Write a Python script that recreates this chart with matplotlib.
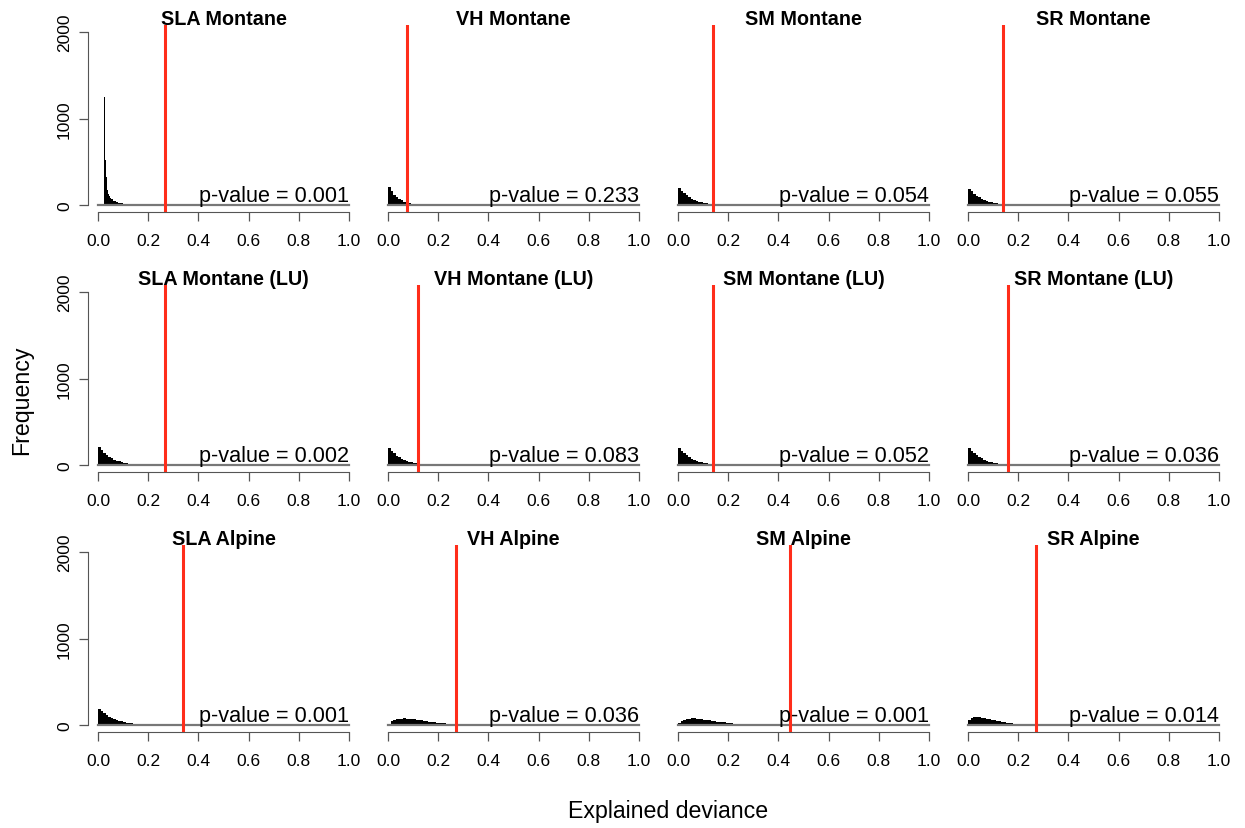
import numpy as np
import matplotlib
matplotlib.use("Agg")
import matplotlib.pyplot as plt

plt.rcParams["font.family"] = ["Liberation Sans", "DejaVu Sans"]

# ─── data ─────────────────────────────────────────────────────────────────────

titles = [
    "SLA Montane", "VH Montane", "SM Montane", "SR Montane",
    "SLA Montane (LU)", "VH Montane (LU)", "SM Montane (LU)", "SR Montane (LU)",
    "SLA Alpine", "VH Alpine", "SM Alpine", "SR Alpine",
]
observed = [0.265, 0.074, 0.139, 0.139,
            0.265, 0.120, 0.140, 0.159,
            0.339, 0.271, 0.446, 0.271]
p_values = ["0.001", "0.233", "0.054", "0.055",
            "0.002", "0.083", "0.052", "0.036",
            "0.001", "0.036", "0.001", "0.014"]

# panel 1 has its own (finer) bins because of the spike
edges_sla = [0.025, 0.028, 0.031, 0.034, 0.037, 0.040, 0.044, 0.048, 0.053,
             0.058, 0.065, 0.072, 0.080, 0.090, 0.100, 0.115, 0.130, 0.150,
             0.175, 0.200, 0.240, 0.280]
counts_sla = [1250, 520, 330, 230, 170, 130, 100, 80, 65, 52, 42, 34, 27,
              21, 16, 12, 9, 6, 4, 2, 1]

# other panels: bins of width 0.01 from 0 to 0.4
edges_std = [round(0.01 * i, 2) for i in range(41)]
counts = {
    "VH Montane":       [205, 160, 122, 92, 70, 53, 40, 31, 24, 18, 14, 11, 8, 6, 5, 4, 3, 2, 2, 1,
                         1, 1, 1, 0, 0, 0, 0, 0, 0, 0, 0, 0, 0, 0, 0, 0, 0, 0, 0, 0],
    "SM Montane":       [200, 168, 138, 112, 92, 75, 61, 50, 41, 33, 27, 22, 18, 14, 11, 9, 7, 6, 5, 4,
                         3, 2, 2, 1, 1, 1, 1, 0, 0, 0, 0, 0, 0, 0, 0, 0, 0, 0, 0, 0],
    "SR Montane":       [190, 160, 132, 108, 88, 72, 59, 48, 39, 32, 26, 21, 17, 14, 11, 9, 7, 6, 5, 4,
                         3, 2, 2, 1, 1, 1, 1, 0, 0, 0, 0, 0, 0, 0, 0, 0, 0, 0, 0, 0],
    "SLA Montane (LU)": [205, 172, 142, 116, 95, 78, 64, 52, 42, 34, 28, 23, 18, 15, 12, 10, 8, 6, 5, 4,
                         3, 3, 2, 2, 1, 1, 1, 1, 0, 0, 0, 0, 0, 0, 0, 0, 0, 0, 0, 0],
    "VH Montane (LU)":  [200, 166, 136, 110, 90, 73, 59, 48, 39, 31, 25, 20, 16, 13, 10, 8, 6, 5, 4, 3,
                         2, 2, 1, 1, 1, 1, 0, 0, 0, 0, 0, 0, 0, 0, 0, 0, 0, 0, 0, 0],
    "SM Montane (LU)":  [200, 168, 138, 113, 92, 75, 61, 50, 41, 33, 27, 22, 18, 14, 11, 9, 7, 6, 5, 4,
                         3, 2, 2, 1, 1, 1, 1, 0, 0, 0, 0, 0, 0, 0, 0, 0, 0, 0, 0, 0],
    "SR Montane (LU)":  [200, 168, 139, 114, 93, 76, 62, 51, 41, 34, 27, 22, 18, 15, 12, 9, 8, 6, 5, 4,
                         3, 2, 2, 1, 1, 1, 1, 0, 0, 0, 0, 0, 0, 0, 0, 0, 0, 0, 0, 0],
    "SLA Alpine":       [185, 160, 137, 117, 99, 84, 71, 60, 50, 42, 35, 29, 24, 20, 16, 13, 11, 9, 7, 6,
                         5, 4, 3, 3, 2, 2, 1, 1, 1, 1, 0, 0, 0, 0, 0, 0, 0, 0, 0, 0],
    "VH Alpine":        [18, 42, 58, 67, 72, 75, 76, 75, 73, 70, 66, 62, 58, 53, 49, 44, 40, 36, 32, 28,
                         25, 22, 19, 16, 14, 12, 10, 8, 7, 6, 5, 4, 3, 3, 2, 2, 1, 1, 1, 0],
    "SM Alpine":        [22, 48, 63, 71, 75, 77, 77, 75, 72, 68, 64, 59, 55, 50, 46, 41, 37, 33, 30, 26,
                         23, 20, 17, 15, 13, 11, 9, 8, 6, 5, 4, 4, 3, 2, 2, 1, 1, 1, 0, 0],
    "SR Alpine":        [55, 80, 88, 90, 88, 84, 79, 73, 67, 61, 55, 49, 43, 38, 33, 29, 25, 21, 18, 15,
                         13, 11, 9, 7, 6, 5, 4, 3, 2, 2, 1, 1, 1, 0, 0, 0, 0, 0, 0, 0],
}

x_ticks = [0.0, 0.2, 0.4, 0.6, 0.8, 1.0]
y_ticks = [0, 1000, 2000]

# ─── layout (pixels of a 1245x829 canvas) ────────────────────────────────────

W, H = 1245, 829
fig = plt.figure(figsize=(W / 100, H / 100), dpi=100)

axis_col = "#555555"
red = "#ff2d1a"

for i, title in enumerate(titles):
    r, c = divmod(i, 4)
    left, top, w, h = 88 + 290 * c, 26 + 260 * r, 271, 187
    ax = fig.add_axes([left / W, 1 - (top + h) / H, w / W, h / H])

    if i == 0:
        e, k = edges_sla, counts_sla
    else:
        e, k = edges_std, counts[title]
    ax.bar(e[:-1], k, width=np.diff(e), align="edge", color="black", linewidth=0)

    ax.plot([0, 1], [0, 0], color="#777777", lw=1.6, zorder=3)
    ax.axvline(observed[i], color=red, lw=2.2, zorder=4)

    ax.set_xlim(-0.04, 1.04)
    ax.set_ylim(-80, 2080)

    for s in ["top", "right"]:
        ax.spines[s].set_visible(False)
    ax.spines["bottom"].set_bounds(0, 1)
    ax.spines["bottom"].set_color(axis_col)
    ax.set_xticks(x_ticks)
    ax.set_xticklabels([f"{t:.1f}" for t in x_ticks])
    ax.tick_params(axis="x", direction="out", length=6.5, width=0.9,
                   color=axis_col, pad=8.5, labelsize=12.5)

    if c == 0:
        ax.spines["left"].set_bounds(0, 2000)
        ax.spines["left"].set_color(axis_col)
        ax.set_yticks(y_ticks)
        ax.set_yticklabels([str(t) for t in y_ticks], rotation=90, va="center")
        ax.tick_params(axis="y", direction="out", length=6.5, width=0.9,
                       color=axis_col, pad=5, labelsize=12.5)
    else:
        ax.spines["left"].set_visible(False)
        ax.set_yticks([])

    ax.text(0.5, 1.004, title, transform=ax.transAxes, ha="center",
            va="baseline", fontsize=14.2, fontweight="bold")
    ax.text(0.7, 45, f"p-value = {p_values[i]}", ha="center", va="baseline",
            fontsize=15.6, zorder=5)

fig.text(22 / W, 1 - 400 / H, "Frequency", rotation=90, ha="center",
         va="center", fontsize=16.7)
fig.text(668 / W, 1 - 812 / H, "Explained deviance", ha="center",
         va="center", fontsize=16.7)

fig.savefig("out.png", dpi=100)
